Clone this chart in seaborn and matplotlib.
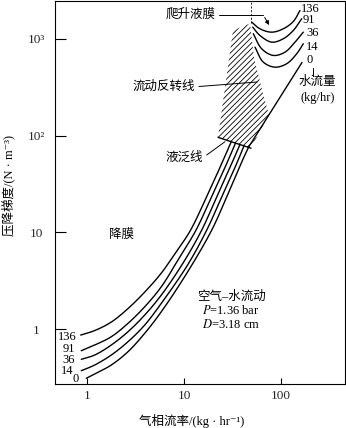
import numpy as np
import pandas as pd
import matplotlib
matplotlib.use('Agg')
import matplotlib.pyplot as plt
from matplotlib.lines import Line2D
from matplotlib.patches import FancyArrowPatch
import seaborn as sns

W, H = 346, 428

# ---------------- data ----------------
water_labels = ['136', '91', '36', '14', '0']

# falling-film branch up to flooding: gas rate (kg/hr) vs pressure gradient (N/m^3)
gas_136 = [0.8611, 1.2003, 1.7803, 2.6466, 3.9344, 5.8336, 8.2692, 11.531, 16.857, 24.474, 30.74]
dp_136 = [0.8671, 0.9650, 1.1810, 1.6276, 2.4093, 3.7844, 6.2334, 10.265, 22.484, 51.29, 86.50]

gas_91 = [0.8733, 1.2003, 1.7803, 2.6466, 3.9344, 5.8336, 8.7774, 13.295, 19.208, 27.560, 34.03]
dp_91 = [0.5972, 0.6838, 0.8328, 1.1450, 1.6985, 2.7321, 5.2778, 10.512, 23.189, 51.29, 83.87]

gas_36 = [0.8733, 1.2003, 1.7803, 2.6466, 3.9344, 5.8336, 9.7639, 15.219, 21.733, 31.03, 37.79]
dp_36 = [0.4868, 0.5390, 0.6838, 0.9379, 1.3946, 2.2434, 4.7983, 10.512, 23.189, 51.29, 80.74]

gas_14 = [0.8733, 1.2003, 1.7803, 2.6466, 3.9344, 5.8336, 10.867, 17.140, 24.474, 34.93, 41.54]
dp_14 = [0.3713, 0.4250, 0.5390, 0.7398, 1.0997, 1.8416, 4.5757, 10.512, 23.189, 51.29, 78.28]

gas_0 = [0.9835, 1.2003, 1.7803, 2.6466, 3.9344, 5.8336, 10.662, 19.300, 27.560, 38.70, 46.23]
dp_0 = [0.3100, 0.3431, 0.4250, 0.5831, 0.9029, 1.5088, 3.7575, 10.512, 23.189, 51.29, 75.55]

# zero-water-rate line above flooding
gas_0_up = [46.23, 164.64]
dp_0_up = [75.55, 569.3]

# climbing-film branch
up_gas_136 = [49.9, 60.7, 80.2, 105.6, 133.9, 157.0]
up_dp_136 = [1484, 1268, 1170, 1268, 1508, 1959]
up_gas_91 = [51.1, 60.7, 80.2, 105.6, 133.9, 163.5]
up_dp_91 = [1317, 1082, 922.5, 1000, 1218, 1609]
up_gas_36 = [51.8, 63.2, 83.3, 109.9, 139.4, 169.8]
up_dp_36 = [1126, 788.6, 672.5, 727, 922.5, 1170]
up_gas_14 = [53.95, 65.7, 86.7, 114.5, 145.2, 169.8]
up_dp_14 = [819, 573.5, 509, 552, 700, 888]

# flooding line
flood_gas = [22.41, 49.07]
flood_dp = [95.8, 73.95]

# flow-reversal (hatched) region
rev_gas = [47.9, 32.0, 22.41, 49.07, 75.2, 65.2, 57.9, 52.7, 49.6]
rev_dp = [1438, 1218, 95.8, 73.95, 163.9, 272.6, 438.5, 641, 1081]

# flow-reversal line position
rev_line_gas = 49.07
rev_line_dp_low = 1438

x_ticks = [1, 10, 100]
x_ticklabels = ['1', '10', '100']
y_ticks = [1, 10, 100, 1000]
y_ticklabels = ['1', '10', '10²', '10³']


# smooth drawing path through the read points (centripetal Catmull-Rom in log space)
def smooth_path(xs, ys, n=24):
    P = np.column_stack([np.log10(xs), np.log10(ys)])
    if len(P) < 3:
        return list(xs), list(ys)
    P = np.vstack([2 * P[0] - P[1], P, 2 * P[-1] - P[-2]])
    out = []
    for i in range(1, len(P) - 2):
        p0, p1, p2, p3 = P[i - 1], P[i], P[i + 1], P[i + 2]
        t0 = 0.0
        t1 = t0 + np.linalg.norm(p1 - p0) ** 0.5
        t2 = t1 + np.linalg.norm(p2 - p1) ** 0.5
        t3 = t2 + np.linalg.norm(p3 - p2) ** 0.5
        t = np.linspace(t1, t2, n)[:, None]
        a1 = (t1 - t) / (t1 - t0) * p0 + (t - t0) / (t1 - t0) * p1
        a2 = (t2 - t) / (t2 - t1) * p1 + (t - t1) / (t2 - t1) * p2
        a3 = (t3 - t) / (t3 - t2) * p2 + (t - t2) / (t3 - t2) * p3
        b1 = (t2 - t) / (t2 - t0) * a1 + (t - t0) / (t2 - t0) * a2
        b2 = (t3 - t) / (t3 - t1) * a2 + (t - t1) / (t3 - t1) * a3
        c = (t2 - t) / (t2 - t1) * b1 + (t - t1) / (t2 - t1) * b2
        out.append(c if i == 1 else c[1:])
    C = np.vstack(out)
    return list(10 ** C[:, 0]), list(10 ** C[:, 1])


# ---------------- figure ----------------
sns.set_theme(style='white')
plt.rcParams['font.family'] = ['Liberation Serif', 'Noto Sans CJK SC', 'DejaVu Serif']
plt.rcParams['hatch.linewidth'] = 0.6
plt.rcParams['hatch.color'] = 'black'

fig = plt.figure(figsize=(W / 100, H / 100), dpi=100)
ax = fig.add_axes([55 / W, 1 - 384 / H, 290 / W, 383.5 / H])
ax.set_xscale('log')
ax.set_yscale('log')
XL = (0.468, 457)
YL = (0.2706, 2485)
ax.set_xlim(*XL)
ax.set_ylim(*YL)

rows = []
series = [
    ('136', gas_136, dp_136), ('91', gas_91, dp_91), ('36', gas_36, dp_36),
    ('14', gas_14, dp_14), ('0', gas_0, dp_0), ('0up', gas_0_up, dp_0_up),
    ('u136', up_gas_136, up_dp_136), ('u91', up_gas_91, up_dp_91),
    ('u36', up_gas_36, up_dp_36), ('u14', up_gas_14, up_dp_14),
    ('flood', flood_gas, flood_dp),
]
for name, g, d in series:
    sg, sd = smooth_path(g, d)
    for gi, di in zip(sg, sd):
        rows.append({'curve': name, 'gas': gi, 'dp': di})
df = pd.DataFrame(rows)
sns.lineplot(data=df, x='gas', y='dp', units='curve', estimator=None, sort=False,
             color='black', lw=1.0, ax=ax, legend=False)

ax.fill(rev_gas, rev_dp, facecolor='none', edgecolor='black', hatch='//////', lw=0)
ax.plot([rev_line_gas, rev_line_gas], [rev_line_dp_low, YL[1]], color='black',
        lw=0.6, dashes=(2.5, 2))

ax.set_xticks(x_ticks)
ax.set_xticklabels(x_ticklabels)
ax.set_yticks(y_ticks)
ax.set_yticklabels(y_ticklabels)
ax.minorticks_off()
ax.set_xlabel('')
ax.set_ylabel('')
ax.tick_params(axis='y', direction='in', length=8, width=0.8, color='black',
               labelsize=9.5, pad=13.7, left=True)
for lab in ax.get_yticklabels():
    lab.set_horizontalalignment('center')
ax.tick_params(axis='x', direction='in', length=4.5, width=0.8, color='black',
               labelsize=9.5, pad=4.3, bottom=True)
for s in ax.spines.values():
    s.set_color('black')
    s.set_linewidth(0.8)


def T(x, y, s, **kw):
    kw.setdefault('fontsize', 9)
    kw.setdefault('ha', 'center')
    kw.setdefault('va', 'center')
    fig.text(x / W, 1 - y / H, s, color='black', **kw)


def L(xs, ys, lw=0.7):
    fig.add_artist(Line2D([x / W for x in xs], [1 - y / H for y in ys],
                          transform=fig.transFigure, color='black', lw=lw))


# left-hand water-rate labels
for lab, (x, y) in zip(water_labels, [(67, 337), (69, 349), (69, 360), (67, 371), (75.5, 379)]):
    T(x, y, lab)
# right-hand water-rate labels
for lab, (x, y) in zip(water_labels, [(310, 9.5), (309, 20), (312.5, 33), (312.5, 47), (309.5, 60)]):
    T(x, y, lab)
T(317, 82, '水流量')
T(318, 98, '(kg/hr)')
L([313, 313], [68, 75.5], lw=0.7)

T(191, 15, '爬升液膜')
L([219, 263.3], [15, 15])
fig.add_artist(FancyArrowPatch(
    (263.3 / W, 1 - 15 / H), (270.5 / W, 1 - 27.5 / H), transform=fig.transFigure,
    arrowstyle='-|>', mutation_scale=6, lw=0.7, color='black'))

T(164, 87, '流动反转线')
L([199, 257], [86.5, 82])

T(184, 158, '液泛线')
L([206.7, 225], [155, 141.7])

T(122, 235, '降膜')
T(231, 297, '空气–水流动')
T(231, 310, '$P$=1.36 bar', math_fontfamily='stix')
T(231, 324, '$D$=3.18 cm', math_fontfamily='stix')

T(191.5, 421, '气相流率/(kg · hr⁻¹)')
T(8, 186, '压降梯度/(N · m⁻³)', rotation=90)

fig.savefig('out.png', dpi=100)
